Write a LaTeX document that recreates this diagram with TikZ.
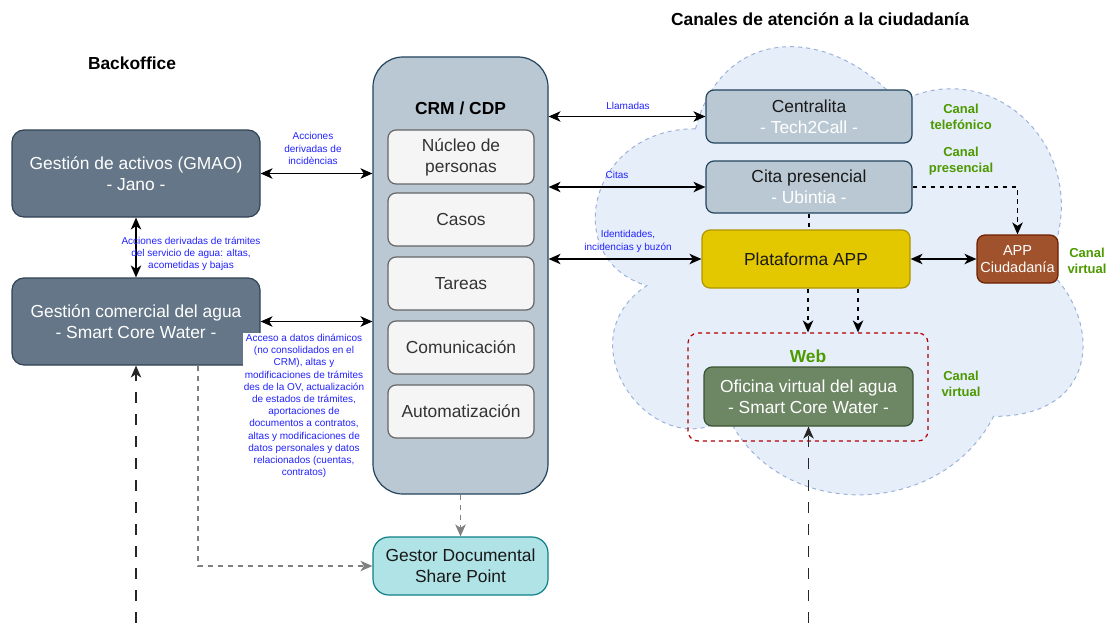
\documentclass[tikz,border=0pt]{standalone}
\usepackage{fontspec}
\setmainfont{Liberation Sans}
\usetikzlibrary{arrows.meta}
\definecolor{slatefill}{HTML}{647687}
\definecolor{slateline}{HTML}{314354}
\definecolor{crmfill}{HTML}{BAC8D3}
\definecolor{crmline}{HTML}{23445D}
\definecolor{subfill}{HTML}{F5F5F5}
\definecolor{subline}{HTML}{666666}
\definecolor{subtext}{HTML}{333333}
\definecolor{platfill}{HTML}{E3C800}
\definecolor{platline}{HTML}{B09500}
\definecolor{appfill}{HTML}{A0522D}
\definecolor{appline}{HTML}{6D1F00}
\definecolor{ofifill}{HTML}{6D8764}
\definecolor{ofiline}{HTML}{3A5431}
\definecolor{gesfill}{HTML}{B0E3E6}
\definecolor{gesline}{HTML}{0E8088}
\definecolor{webline}{HTML}{B20000}
\definecolor{cloudfill}{HTML}{E6EEFA}
\definecolor{cloudline}{HTML}{9CB3D8}
\definecolor{lblblue}{HTML}{2222FF}
\definecolor{greentxt}{HTML}{4D9900}
\definecolor{graydash}{HTML}{808080}
\begin{document}
\begin{tikzpicture}[x=1pt,y=-1pt,
  tip/.tip={Stealth[length=12pt,width=10.5pt,inset=3.5pt]},
  bignode/.style={draw,line width=1.2pt,inner sep=0pt,align=center,
    font=\fontsize{17.4}{21}\selectfont},
  slate/.style={bignode,fill=slatefill,draw=slateline,text=white,rounded corners=12pt,
    minimum width=248pt,minimum height=87pt},
  subbox/.style={bignode,fill=subfill,draw=subline,text=subtext,rounded corners=8pt,
    minimum width=146pt},
  chan/.style={bignode,fill=crmfill,draw=crmline,text=black!90,rounded corners=8pt,
    minimum width=206pt},
  lbl/.style={text=lblblue,align=center,inner sep=1pt,font=\fontsize{10}{12.2}\selectfont},
  lblw/.style={lbl,fill=white},
  grn/.style={text=greentxt,align=center,inner sep=0pt,font=\bfseries\fontsize{13}{16}\selectfont},
  ttl/.style={font=\bfseries\fontsize{17.4}{21}\selectfont,inner sep=0pt},
  biarrow/.style={line width=1.4pt,{tip}-{tip}},
  dsh/.style={line width=1.4pt,dash pattern=on 4.5pt off 4.5pt,-{tip}},
  longdsh/.style={line width=1.4pt,black!85,dash pattern=on 11pt off 11pt,-{tip}},
  graydsh/.style={line width=1.3pt,graydash,dash pattern=on 5pt off 5pt,-{tip}}]
\useasboundingbox (0,0) rectangle (1107,623);
\fill[white] (0,0) rectangle (1107,623);

% cloud
\draw[fill=cloudfill,draw=cloudline,line width=1pt,dash pattern=on 4pt off 4pt]
 (695.5,128.75) .. controls (587.1,128.75) and (560,259.5) .. (646.7,285.65)
 .. controls (560,343.2) and (657.6,468.7) .. (728,416.4)
 .. controls (776.8,521) and (939.4,521) .. (993.6,416.4)
 .. controls (1102,416.4) and (1102,318) .. (1046,268)
 .. controls (1102,154.9) and (993.6,50.3) .. (898.75,102.6)
 .. controls (831,24.15) and (722.6,24.15) .. (695.5,128.75) -- cycle;

% titles
\node[ttl] (tback) at (132,63) {Backoffice};
\node[ttl] (tcan) at (820,19) {Canales de atención a la ciudadanía};

% backoffice
\node[slate] (gmao) at (136,173.5) {Gestión de activos (GMAO)\\- Jano -};
\node[slate] (gcom) at (136,321.5) {Gestión comercial del agua\\- Smart Core Water -};

% CRM
\node[draw=crmline,fill=crmfill,line width=1.2pt,rounded corners=30pt,
  minimum width=175pt,minimum height=437pt,inner sep=0pt] (crm) at (460.5,275.5) {};
\node[ttl] (crmt) at (460.5,108) {CRM / CDP};
\node[subbox,minimum height=54pt] (nuc) at (461,157) {Núcleo de\\personas};
\node[subbox,minimum height=53pt] (cas) at (461,219.5) {Casos};
\node[subbox,minimum height=53pt] (tar) at (461,283.5) {Tareas};
\node[subbox,minimum height=53pt] (com) at (461,347.5) {Comunicación};
\node[subbox,minimum height=53pt] (aut) at (461,411.5) {Automatización};

% Gestor documental
\node[bignode,fill=gesfill,draw=gesline,rounded corners=16pt,minimum width=175pt,
  minimum height=58pt,text=black!90] (ges) at (460.5,566) {Gestor Documental\\Share Point};

% channels
\node[chan,minimum height=53pt] (cen) at (809,116.5) {Centralita\\\textcolor{white}{- Tech2Call -}};
\node[chan,minimum height=52pt] (cit) at (809,187) {Cita presencial\\\textcolor{white}{- Ubintia -}};
\node[bignode,fill=platfill,draw=platline,rounded corners=8pt,minimum width=208pt,
  minimum height=58pt,text=black!90] (plat) at (806,259) {Plataforma APP};
\node[bignode,fill=appfill,draw=appline,rounded corners=8pt,minimum width=81pt,
  minimum height=48pt,text=white,font=\fontsize{14.5}{17}\selectfont] (appc) at (1017.5,259) {APP\\Ciudadanía};
\node[draw=webline,line width=1.2pt,dash pattern=on 4pt off 4pt,rounded corners=10pt,
  minimum width=240pt,minimum height=108pt,inner sep=0pt] (web) at (808,387) {};
\node[text=greentxt,font=\bfseries\fontsize{17.4}{21}\selectfont,inner sep=0pt] (webt) at (808,356) {Web};
\node[bignode,fill=ofifill,draw=ofiline,rounded corners=8pt,minimum width=209pt,
  minimum height=59pt,text=white] (ofi) at (808.5,396.5) {Oficina virtual del agua\\- Smart Core Water -};

% green labels
\node[grn] (ctel) at (961,117) {Canal\\telefónico};
\node[grn] (cpre) at (961,161) {Canal\\presencial};
\node[grn] (cvir1) at (1087,261) {Canal\\virtual};
\node[grn] (cvir2) at (961,383.5) {Canal\\virtual};

% connectors
\draw[biarrow] (gmao.east) -- (crm.west |- gmao.east);
\draw[biarrow] (gmao.south) -- (gcom.north);
\draw[biarrow] (gcom.east) -- (crm.west |- gcom.east);
\draw[biarrow] (crm.east |- cen.west) -- (cen.west);
\draw[biarrow] (crm.east |- cit.west) -- (cit.west);
\draw[biarrow] (crm.east |- plat.west) -- (plat.west);
\draw[biarrow] (plat.east) -- (appc.west);
\draw[dsh] (cit.east) -| (appc.north);
\draw[line width=1.4pt,dash pattern=on 4.5pt off 4.5pt] (cit.south) -- (cit.south |- plat.north);
\draw[dsh] (plat.south -| web.north) -- (web.north);
\draw[dsh] (plat.south -| 858,0) -- (web.north -| 858,0);
\coordinate (bl) at (136,623);
\coordinate (br) at (808.5,623);
\draw[longdsh] (bl) -- (gcom.south);
\draw[longdsh] (br) -- (ofi.south);
\draw[graydsh] (gcom.south -| 198,0) |- (ges.west);
\draw[graydsh] (crm.south) -- (ges.north);

% blue labels
\node[lblw] (l1) at (313,148.5) {Acciones\\derivadas de\\incidèncias};
\node[lbl] (l2) at (191,254) {Acciones derivadas de trámites\\del servicio de agua: altas,\\acometidas y bajas};
\node[lblw] (l3) at (304,406) {Acceso a datos dinámicos\\(no consolidados en el\\CRM), altas y\\modificaciones de trámites\\des de la OV, actualización\\de estados de trámites,\\aportaciones de\\documentos a contratos,\\altas y modificaciones de\\datos personales y datos\\relacionados (cuentas,\\contratos)};
\node[lbl] (l4) at (628,106) {Llamadas};
\node[lbl] (l5) at (617,175) {Citas};
\node[lbl] (l6) at (628,241.5) {Identidades,\\incidencias y buzón};
\end{tikzpicture}
\end{document}
